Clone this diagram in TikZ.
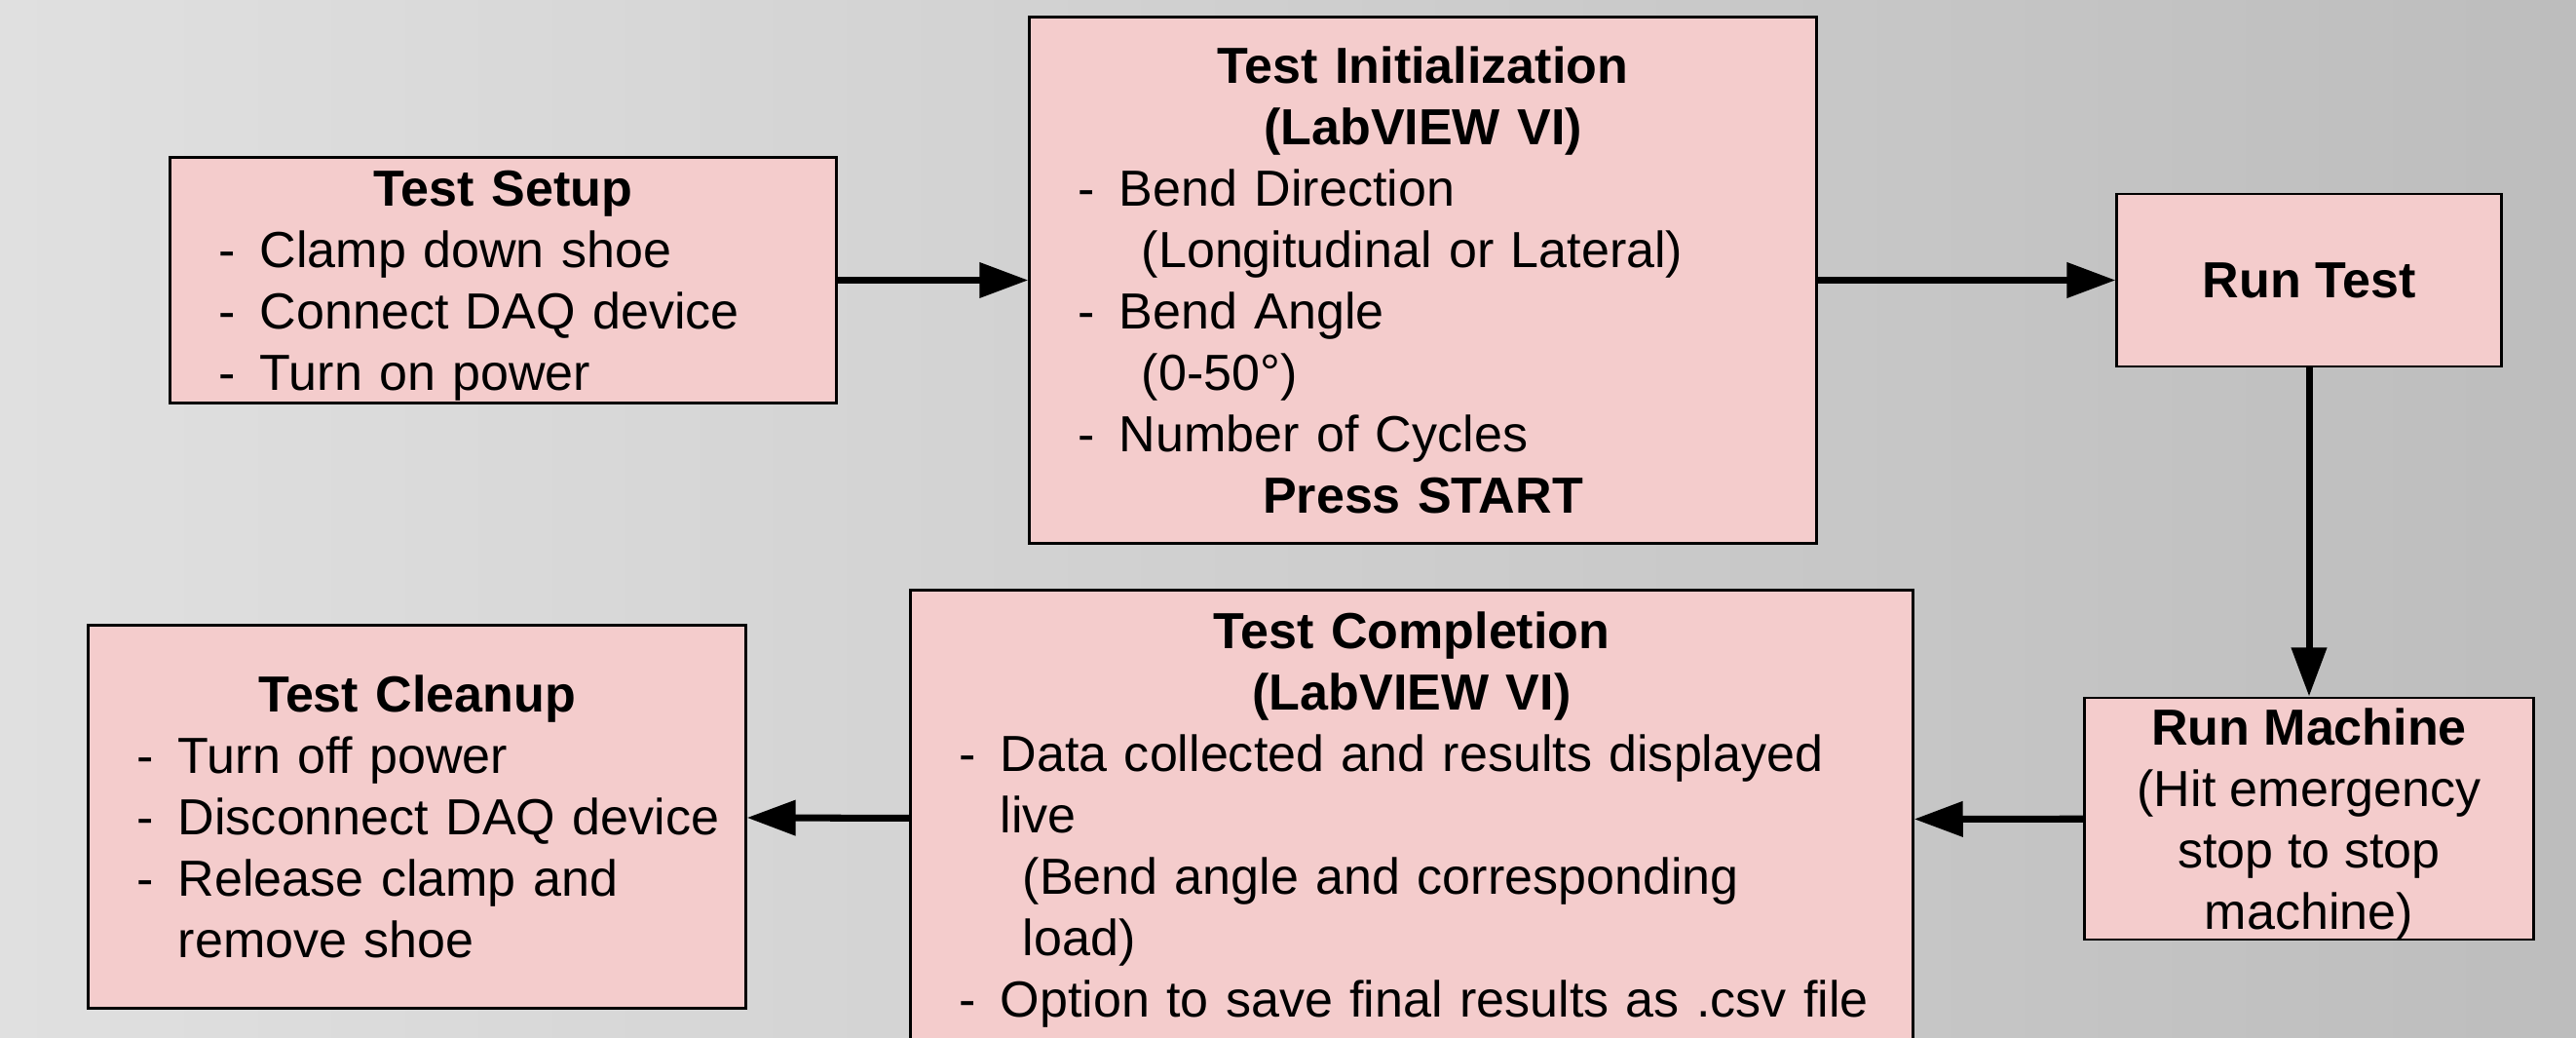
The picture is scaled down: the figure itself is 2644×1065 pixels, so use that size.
\documentclass[tikz,border=0pt]{standalone}
\usepackage{fontspec}
\setmainfont{Liberation Sans}
\usetikzlibrary{arrows.meta}
\definecolor{boxfill}{HTML}{F4CCCC}
\definecolor{bgleft}{HTML}{E0E0E0}
\definecolor{bgright}{HTML}{BDBDBD}
% one line of a box: dash, text, continued line, sub note
\newcommand{\dashitem}[1]{\makebox[\linewidth][l]{\makebox[0.42cm][l]{-}#1}}
\newcommand{\wrapitem}[1]{\makebox[\linewidth][l]{\hspace{0.42cm}#1}}
\newcommand{\subnote}[1]{\makebox[\linewidth][l]{\hspace{0.65cm}#1}}
\begin{document}
\begin{tikzpicture}[x=0.01cm, y=-0.01cm,
        main/.style = {draw=black, line width=0.8pt, fill=boxfill, inner ysep=0pt,
                       font=\fontsize{14.8pt}{17.93pt}\selectfont, align=center},
        list/.style = {main, inner xsep=0.5cm},
        flow/.style = {line width=2pt, -{Triangle[length=0.5cm, width=0.35cm]}}]
        \useasboundingbox (0,0) rectangle (2644,1065);
        \shade[left color=bgleft, right color=bgright] (0,0) rectangle (2644,1065);
        \clip (0,0) rectangle (2644,1065);
        %
        \node[list, text width=5.83cm, minimum height=2.52cm] (0) at (516.5,287.5)
            {\textbf{Test Setup}\\
             \dashitem{Clamp down shoe}\\
             \dashitem{Connect DAQ device}\\
             \smash{\dashitem{Turn on power}}};
        \node[list, text width=7.07cm, minimum height=5.39cm] (1) at (1460.5,287.5)
            {\textbf{Test Initialization}\\
             \textbf{(LabVIEW VI)}\\
             \dashitem{Bend Direction}\\
             \subnote{(Longitudinal or Lateral)}\\
             \dashitem{Bend Angle}\\
             \subnote{(0-50°)}\\
             \dashitem{Number of Cycles}\\
             \textbf{Press START}};
        \node[main, minimum width=3.94cm, minimum height=1.77cm] (2) at (2370,287.5)
            {\textbf{Run Test}};
        \node[main, minimum width=4.61cm, minimum height=2.48cm] (3) at (2370,840)
            {\textbf{Run Machine}\\(Hit emergency\\stop to stop\\\smash{machine)}};
        \node[list, text width=9.28cm, minimum height=4.70cm] (4) at (1449,841)
            {\textbf{Test Completion}\\
             \textbf{(LabVIEW VI)}\\
             \dashitem{Data collected and results displayed}\\
             \wrapitem{live}\\
             \subnote{(Bend angle and corresponding}\\
             \subnote{load)}\\
             \dashitem{Option to save final results as .csv file}};
        \node[list, text width=5.74cm, minimum height=3.92cm] (5) at (428,838)
            {\textbf{Test Cleanup}\\
             \dashitem{Turn off power}\\
             \dashitem{Disconnect DAQ device}\\
             \dashitem{Release clamp and}\\
             \wrapitem{remove shoe}};
        %
        \draw[flow] (0) -- (1);
        \draw[flow] (1) -- (2);
        \draw[flow] (2) -- (3);
        \draw[flow] (3) -- (4);
        \draw[flow] (4) -- (5);
\end{tikzpicture}
\end{document}
